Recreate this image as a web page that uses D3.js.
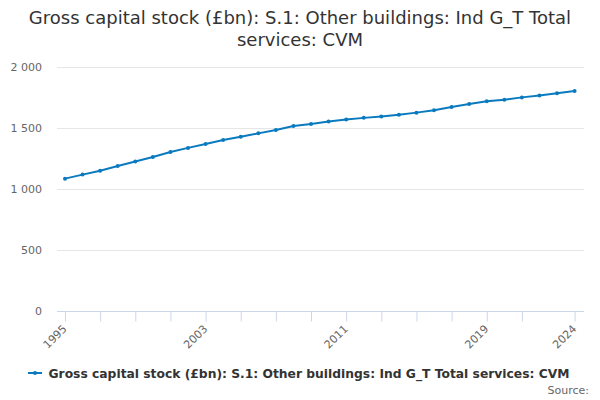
<!DOCTYPE html>
<html><head><meta charset="utf-8">
<script src="https://cdn.jsdelivr.net/npm/d3@7"></script>
<style>body{margin:0;background:#fff;font-family:"DejaVu Sans",sans-serif;}</style>
</head><body>
<svg id="c" width="600" height="400"></svg>
<script>
const years = [1995,1996,1997,1998,1999,2000,2001,2002,2003,2004,2005,2006,2007,2008,2009,2010,2011,2012,2013,2014,2015,2016,2017,2018,2019,2020,2021,2022,2023,2024];
const values = [1085,1118,1150,1188,1226,1262,1303,1337,1369,1402,1429,1456,1484,1517,1533,1553,1570,1583,1594,1608,1626,1645,1672,1697,1720,1732,1751,1767,1784,1803];
const yTicks = [0,500,1000,1500,2000];
const xTicks = [1995,1997,1999,2001,2003,2005,2007,2009,2011,2013,2015,2017,2019,2021,2024];
const xLabels = [1995,2003,2011,2019,2024];
const titleLines = ["Gross capital stock (£bn): S.1: Other buildings: Ind G_T Total","services: CVM"];
const seriesName = "Gross capital stock (£bn): S.1: Other buildings: Ind G_T Total services: CVM";
const color = "#0a7abf";

(function(){
const svg = d3.select("#c");
const pLeft = 57, pRight = 584, pTop = 67, pBottom = 311;
const x = d3.scaleLinear().domain([1995,2024]).range([65,574.6]);
const y = d3.scaleLinear().domain([0,2000]).range([pBottom, pTop]);

svg.append("text").attr("x",300).attr("y",24).attr("text-anchor","middle")
  .attr("font-size",18).attr("fill","#333")
  .selectAll("tspan").data(titleLines).join("tspan")
  .attr("x",300).attr("dy",(d,i)=>i?22:0).text(d=>d);

svg.append("g").selectAll("line").data(yTicks.filter(d=>d>0)).join("line")
  .attr("x1",pLeft).attr("x2",pRight).attr("y1",d=>y(d)+0.5).attr("y2",d=>y(d)+0.5)
  .attr("stroke","#e6e6e6").attr("stroke-width",1);

const fmt = d => d3.format(",")(d).replace(/,/g," ");
svg.append("g").selectAll("text").data(yTicks).join("text")
  .attr("x",42).attr("y",d=>y(d)+4).attr("text-anchor","end")
  .attr("font-size",11).attr("fill","#666").text(fmt);

const xAxis = d3.axisBottom(x).tickValues(xTicks).tickSize(10).tickFormat(d=>xLabels.includes(d)?String(d):"");
const gx = svg.append("g").attr("transform",`translate(0,${pBottom+0.5})`).call(xAxis);
gx.select(".domain").remove();
gx.selectAll(".tick line").attr("stroke","#ccd6eb");
gx.append("line").attr("x1",pLeft).attr("x2",pRight).attr("stroke","#ccd6eb");
gx.selectAll(".tick text").attr("fill","#666").attr("font-size",11)
  .attr("font-family","DejaVu Sans, sans-serif")
  .attr("text-anchor","end").attr("dy",null).attr("y",0)
  .attr("transform","translate(2,18) rotate(-45)");

const data = years.map((yr,i)=>({yr,v:values[i]}));
svg.append("path").datum(data)
  .attr("d",d3.line().x(d=>x(d.yr)).y(d=>y(d.v)))
  .attr("fill","none").attr("stroke",color).attr("stroke-width",2);
svg.append("g").selectAll("circle").data(data).join("circle")
  .attr("cx",d=>x(d.yr)).attr("cy",d=>y(d.v)).attr("r",2).attr("fill",color);

const lg = svg.append("g");
lg.append("line").attr("x1",28).attr("x2",42).attr("y1",373).attr("y2",373)
  .attr("stroke",color).attr("stroke-width",2);
lg.append("circle").attr("cx",35).attr("cy",373).attr("r",2).attr("fill",color);
lg.append("text").attr("x",48.5).attr("y",377.5).attr("font-size",12.3)
  .attr("font-weight","bold").attr("fill","#333").text(seriesName);

svg.append("text").attr("x",589).attr("y",394).attr("text-anchor","end")
  .attr("font-size",11).attr("fill","#666").text("Source:");
})();
</script>
</body></html>
